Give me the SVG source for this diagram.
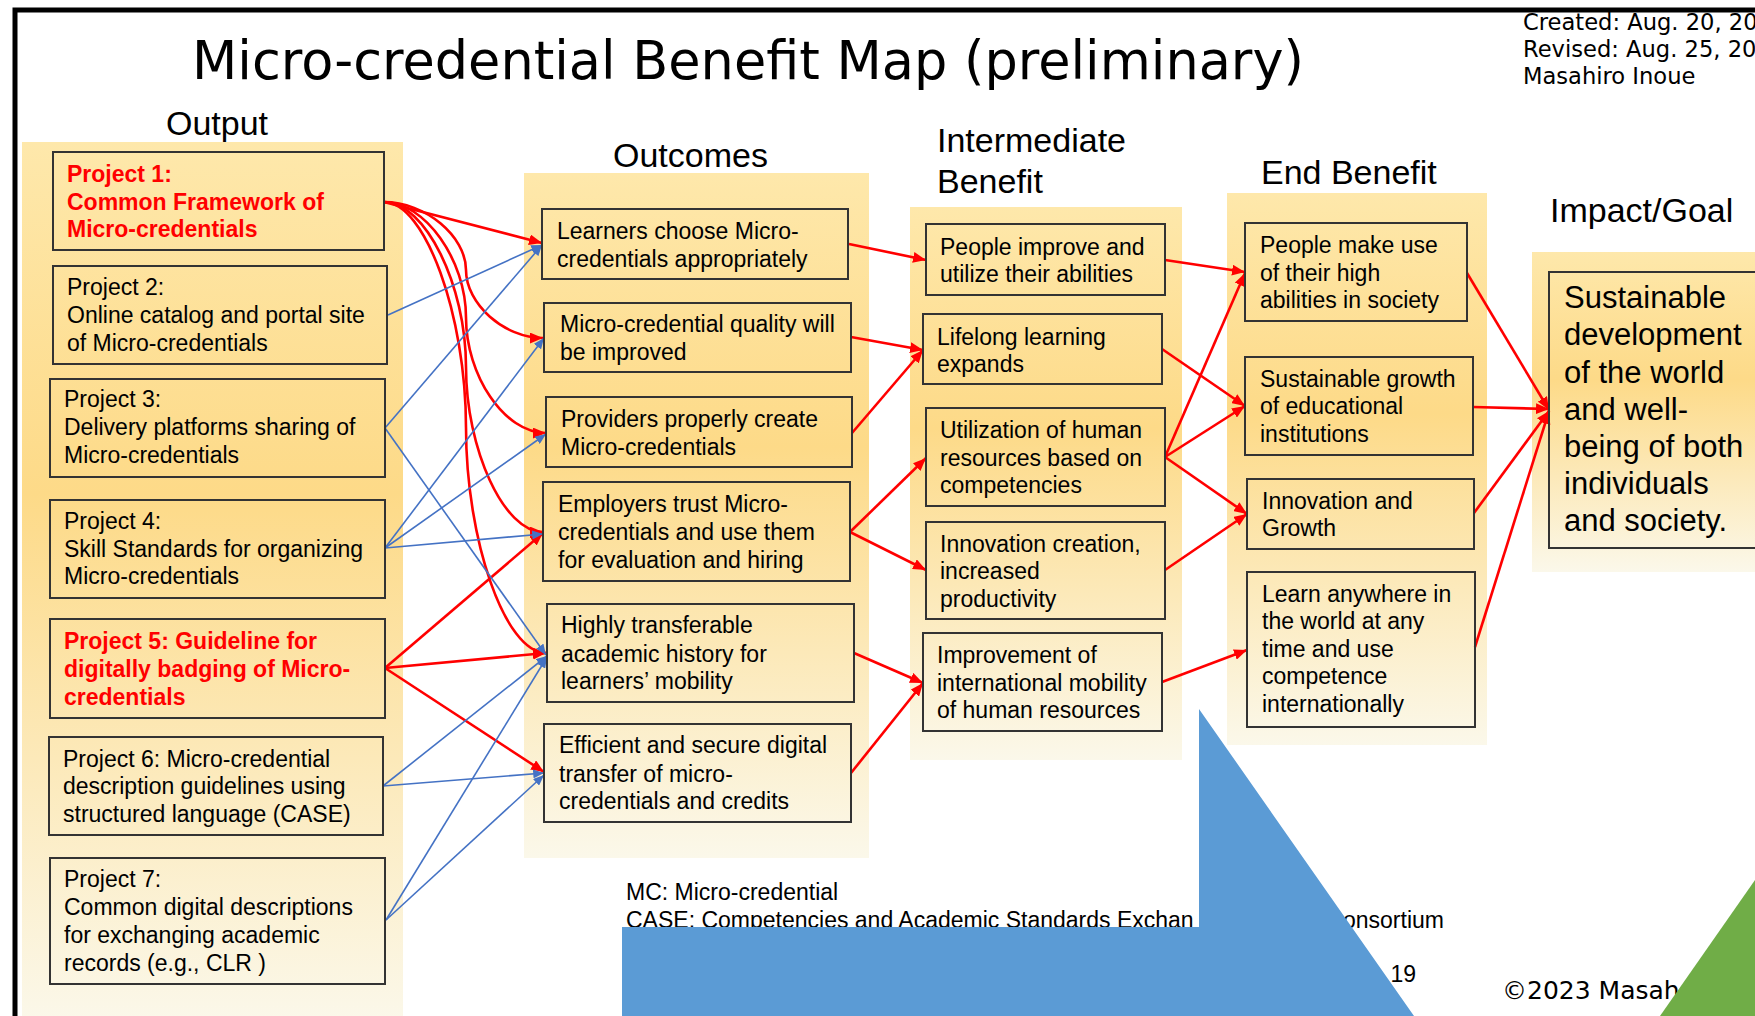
<svg xmlns="http://www.w3.org/2000/svg" width="1755" height="1016" viewBox="0 0 1755 1016">
<defs>
<linearGradient id="pg" x1="0" y1="0" x2="0" y2="1">
<stop offset="0" stop-color="#FEE8AB"/>
<stop offset="0.4" stop-color="#FDDA88"/>
<stop offset="1" stop-color="#FBF8EA"/>
</linearGradient>
<marker id="ar" viewBox="0 0 12 10" refX="12" refY="5" markerWidth="13" markerHeight="11" markerUnits="userSpaceOnUse" orient="auto">
<path d="M0,0 L12,5 L0,10 z" fill="#FF0000"/>
</marker>
<marker id="ab" viewBox="0 0 12 10" refX="12" refY="5" markerWidth="11" markerHeight="9" markerUnits="userSpaceOnUse" orient="auto">
<path d="M0,0 L12,5 L0,10 z" fill="#4472C4"/>
</marker>
<style>
.panel{fill:url(#pg)}
.box{fill:none;stroke:#333;stroke-width:2}
.t{font-family:"Liberation Sans",Arial,sans-serif;font-size:23px;fill:#000}
.g{font-family:"Liberation Sans",Arial,sans-serif;font-size:31px;fill:#000}
.tr{font-family:"Liberation Sans",Arial,sans-serif;font-size:23px;font-weight:bold;fill:#FF0000}
.h{font-family:"Liberation Sans",Arial,sans-serif;font-size:34px;fill:#000}
.v{font-family:"DejaVu Sans",Verdana,sans-serif;fill:#000}
.red{stroke:#FF0000;stroke-width:2.6;fill:none;marker-end:url(#ar)}
.blue{stroke:#4472C4;stroke-width:1.6;fill:none;marker-end:url(#ab)}
</style>
</defs>
<rect width="1755" height="1016" fill="#fff"/>
<path d="M15,1030 L15,10 L1770,10" fill="none" stroke="#000" stroke-width="5"/>
<text class="v" x="192" y="79" font-size="53" textLength="1112" lengthAdjust="spacingAndGlyphs">Micro-credential Benefit Map (preliminary)</text>
<g id="meta" class="v" font-size="22.6">
<text x="1523" y="30">Created: Aug. 20, 20</text>
<text x="1523" y="57">Revised: Aug. 25, 20</text>
<text x="1523" y="84">Masahiro Inoue</text>
</g>
<g id="panels">
<rect class="panel" x="22" y="142" width="381" height="880"/>
<rect class="panel" x="524" y="173" width="345" height="685"/>
<rect class="panel" x="910" y="207" width="272" height="553"/>
<rect class="panel" x="1227" y="193" width="260" height="552"/>
<rect class="panel" x="1532" y="252" width="230" height="320"/>
</g>
<g id="headers">
<text class="h" x="166" y="135">Output</text>
<text class="h" x="613" y="167">Outcomes</text>
<text class="h" x="937" y="152">Intermediate</text>
<text class="h" x="937" y="193">Benefit</text>
<text class="h" x="1261" y="184">End Benefit</text>
<text class="h" x="1550" y="222">Impact/Goal</text>
</g>
<g id="connectors">
<path class="red" d="M384,202 L542,243"/>
<path class="red" d="M384,202 C425,202 466,236 466,270 C466,304 504,338 543,338"/>
<path class="red" d="M384,202 C425,202 466,260 466,317.5 C466,375 504,433 546,433"/>
<path class="red" d="M384,202 C425,202 466,284.5 466,367 C466,449.5 504,532 543,532"/>
<path class="red" d="M384,202 C425,202 466,315 466,427.5 C466,540 505,653 546,653"/>
<path class="red" d="M385,668 L543,533"/>
<path class="red" d="M385,668 L546,653"/>
<path class="red" d="M385,668 L544,772"/>
<path class="blue" d="M388,315 L542,245"/>
<path class="blue" d="M385,428 L542,245"/>
<path class="blue" d="M385,428 L546,655"/>
<path class="blue" d="M385,548 L544,338"/>
<path class="blue" d="M385,548 L546,434"/>
<path class="blue" d="M385,548 L543,534"/>
<path class="blue" d="M383,786 L547,656"/>
<path class="blue" d="M383,786 L544,773"/>
<path class="blue" d="M386,920 L547,657"/>
<path class="blue" d="M386,920 L544,775"/>
<path class="red" d="M849,244 L926,260"/>
<path class="red" d="M851,337 L923,350"/>
<path class="red" d="M852,433 L923,350"/>
<path class="red" d="M850,532 L926,458"/>
<path class="red" d="M850,532 L926,570"/>
<path class="red" d="M854,653 L923,683"/>
<path class="red" d="M851,773 L923,683"/>
<path class="red" d="M1165,260 L1245,272"/>
<path class="red" d="M1162,349 L1245,406"/>
<path class="red" d="M1165,457 L1245,273"/>
<path class="red" d="M1165,457 L1245,406"/>
<path class="red" d="M1165,457 L1247,514"/>
<path class="red" d="M1165,570 L1247,514"/>
<path class="red" d="M1162,682 L1247,650"/>
<path class="red" d="M1467,273 L1549,410"/>
<path class="red" d="M1473,407 L1549,409"/>
<path class="red" d="M1474,513 L1549,411"/>
<path class="red" d="M1475,647 L1549,411"/>
</g>
<g id="p1"><rect class="box" x="53" y="152" width="331" height="98"/>
<text class="tr"><tspan x="67" y="182">Project 1:</tspan><tspan x="67" y="210">Common Framework of</tspan><tspan x="67" y="237">Micro-credentials</tspan></text></g>
<g id="p2"><rect class="box" x="53" y="266" width="334" height="98"/>
<text class="t"><tspan x="67" y="295">Project 2:</tspan><tspan x="67" y="323">Online catalog and portal site</tspan><tspan x="67" y="351">of Micro-credentials</tspan></text></g>
<g id="p3"><rect class="box" x="50" y="379" width="335" height="98"/>
<text class="t"><tspan x="64" y="407">Project 3:</tspan><tspan x="64" y="435">Delivery platforms sharing of</tspan><tspan x="64" y="463">Micro-credentials</tspan></text></g>
<g id="p4"><rect class="box" x="50" y="500" width="335" height="98"/>
<text class="t"><tspan x="64" y="529">Project 4:</tspan><tspan x="64" y="557">Skill Standards for organizing</tspan><tspan x="64" y="584">Micro-credentials</tspan></text></g>
<g id="p5"><rect class="box" x="50" y="619" width="335" height="99"/>
<text class="tr"><tspan x="64" y="649">Project 5: Guideline for</tspan><tspan x="64" y="677">digitally badging of Micro-</tspan><tspan x="64" y="705">credentials</tspan></text></g>
<g id="p6"><rect class="box" x="49" y="737" width="334" height="98"/>
<text class="t"><tspan x="63" y="767">Project 6: Micro-credential</tspan><tspan x="63" y="794">description guidelines using</tspan><tspan x="63" y="822">structured language (CASE)</tspan></text></g>
<g id="p7"><rect class="box" x="50" y="858" width="335" height="126"/>
<text class="t"><tspan x="64" y="887">Project 7:</tspan><tspan x="64" y="915">Common digital descriptions</tspan><tspan x="64" y="943">for exchanging academic</tspan><tspan x="64" y="971">records (e.g., CLR )</tspan></text></g>
<g id="o1"><rect class="box" x="542" y="209" width="306" height="70"/>
<text class="t"><tspan x="557" y="239">Learners choose Micro-</tspan><tspan x="557" y="267">credentials appropriately</tspan></text></g>
<g id="o2"><rect class="box" x="544" y="303" width="307" height="69"/>
<text class="t"><tspan x="560" y="332">Micro-credential quality will</tspan><tspan x="560" y="360">be improved</tspan></text></g>
<g id="o3"><rect class="box" x="546" y="397" width="306" height="70"/>
<text class="t"><tspan x="561" y="427">Providers properly create</tspan><tspan x="561" y="455">Micro-credentials</tspan></text></g>
<g id="o4"><rect class="box" x="543" y="482" width="307" height="99"/>
<text class="t"><tspan x="558" y="512">Employers trust Micro-</tspan><tspan x="558" y="540">credentials and use them</tspan><tspan x="558" y="568">for evaluation and hiring</tspan></text></g>
<g id="o5"><rect class="box" x="547" y="604" width="307" height="98"/>
<text class="t"><tspan x="561" y="633">Highly transferable</tspan><tspan x="561" y="662">academic history for</tspan><tspan x="561" y="689">learners’ mobility</tspan></text></g>
<g id="o6"><rect class="box" x="544" y="724" width="307" height="98"/>
<text class="t"><tspan x="559" y="753">Efficient and secure digital</tspan><tspan x="559" y="782">transfer of micro-</tspan><tspan x="559" y="809">credentials and credits</tspan></text></g>
<g id="i1"><rect class="box" x="926" y="224" width="239" height="71"/>
<text class="t"><tspan x="940" y="255">People improve and</tspan><tspan x="940" y="282">utilize their abilities</tspan></text></g>
<g id="i2"><rect class="box" x="923" y="314" width="239" height="70"/>
<text class="t"><tspan x="937" y="345">Lifelong learning</tspan><tspan x="937" y="372">expands</tspan></text></g>
<g id="i3"><rect class="box" x="926" y="408" width="239" height="98"/>
<text class="t"><tspan x="940" y="438">Utilization of human</tspan><tspan x="940" y="466">resources based on</tspan><tspan x="940" y="493">competencies</tspan></text></g>
<g id="i4"><rect class="box" x="926" y="522" width="239" height="97"/>
<text class="t"><tspan x="940" y="552">Innovation creation,</tspan><tspan x="940" y="579">increased</tspan><tspan x="940" y="607">productivity</tspan></text></g>
<g id="i5"><rect class="box" x="923" y="633" width="239" height="98"/>
<text class="t"><tspan x="937" y="663">Improvement of</tspan><tspan x="937" y="691">international mobility</tspan><tspan x="937" y="718">of human resources</tspan></text></g>
<g id="e1"><rect class="box" x="1245" y="223" width="222" height="98"/>
<text class="t"><tspan x="1260" y="253">People make use</tspan><tspan x="1260" y="281">of their high</tspan><tspan x="1260" y="308">abilities in society</tspan></text></g>
<g id="e2"><rect class="box" x="1245" y="357" width="228" height="98"/>
<text class="t"><tspan x="1260" y="387">Sustainable growth</tspan><tspan x="1260" y="414">of educational</tspan><tspan x="1260" y="442">institutions</tspan></text></g>
<g id="e3"><rect class="box" x="1247" y="479" width="227" height="70"/>
<text class="t"><tspan x="1262" y="509">Innovation and</tspan><tspan x="1262" y="536">Growth</tspan></text></g>
<g id="e4"><rect class="box" x="1247" y="572" width="228" height="155"/>
<text class="t"><tspan x="1262" y="602">Learn anywhere in</tspan><tspan x="1262" y="629">the world at any</tspan><tspan x="1262" y="657">time and use</tspan><tspan x="1262" y="684">competence</tspan><tspan x="1262" y="712">internationally</tspan></text></g>
<g id="goal"><rect class="box" x="1549" y="272" width="230" height="276"/>
<text class="g"><tspan x="1564" y="308">Sustainable</tspan><tspan x="1564" y="345">development</tspan><tspan x="1564" y="383">of the world</tspan><tspan x="1564" y="420">and well-</tspan><tspan x="1564" y="457">being of both</tspan><tspan x="1564" y="494">individuals</tspan><tspan x="1564" y="531">and society.</tspan></text></g>
<g id="legend">
<text class="t" x="626" y="900">MC: Micro-credential</text>
<text class="t" x="626" y="928">CASE: Competencies and Academic Standards Exchan</text>
<text class="t" x="1343" y="928">onsortium</text>
<text class="t" x="1416" y="982" text-anchor="end">19</text>
<text class="v" x="1502" y="999" font-size="25">©2023 Masah</text>
</g>
<polygon points="622,927 1199,927 1199,709 1414,1016 622,1016" fill="#5B9BD5"/>
<polygon points="1755,880 1755,1016 1660,1016" fill="#70AD47"/>
</svg>
